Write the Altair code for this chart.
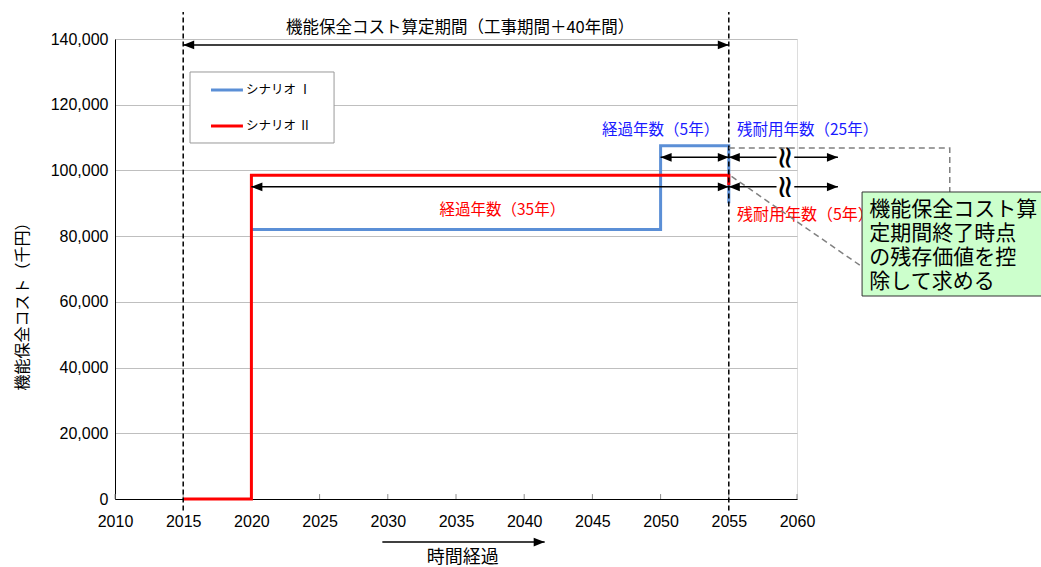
import altair as alt
import pandas as pd

# Cost paths of the two scenarios (year, thousand yen)
years_s1 = [2020, 2050, 2050, 2055, 2055]
cost_s1 = [82000, 82000, 107500, 107500, 90000]
years_s2 = [2015, 2020, 2020, 2055, 2055]
cost_s2 = [0, 0, 98500, 98500, 95500]

series_names = ["シナリオ Ⅰ", "シナリオ Ⅱ"]
series_colors = ["#5b8fd6", "#ff0000"]

# Axis ticks
x_ticks = [2010, 2015, 2020, 2025, 2030, 2035, 2040, 2045, 2050, 2055, 2060]
y_ticks = [0, 20000, 40000, 60000, 80000, 100000, 120000, 140000]

# Start and end of the cost evaluation period
period_bounds = [2015, 2055]

JP = "Noto Sans CJK JP"
NUM = "Liberation Sans"

xs = alt.Scale(domain=[2010, 2060], nice=False, zero=False)
ys = alt.Scale(domain=[0, 140000], nice=False)

x_axis = alt.Axis(
    values=x_ticks,
    labelExpr="format(datum.value, 'd')",
    title=None,
    grid=False,
    ticks=False,
    labelPadding=14,
    labelFont=NUM,
    labelFontSize=16,
    labelColor="#000",
    domainColor="#000",
    labelFlush=False,
)
y_axis = alt.Axis(
    values=y_ticks,
    labelExpr="format(datum.value, ',')",
    title="機能保全コスト（千円）",
    titleFont=JP,
    titleFontSize=16,
    titleFontWeight="normal",
    titleColor="#000",
    titleAngle=270,
    titleX=-93,
    titleY=263,
    titleAlign="center",
    titleBaseline="middle",
    grid=True,
    gridColor="#bfbfbf",
    ticks=False,
    labelPadding=7,
    labelFont=NUM,
    labelFontSize=16,
    labelColor="#000",
    domainColor="#000",
    labelFlush=False,
)


def X(field="x"):
    return alt.X(f"{field}:Q", scale=xs, axis=x_axis)


def Y(field="y"):
    return alt.Y(f"{field}:Q", scale=ys, axis=y_axis)


rows = []
for i, (x, y) in enumerate(zip(years_s1, cost_s1)):
    rows.append({"series": series_names[0], "i": i, "x": x, "y": y})
for i, (x, y) in enumerate(zip(years_s2, cost_s2)):
    rows.append({"series": series_names[1], "i": i, "x": x, "y": y})
lines_df = pd.DataFrame(rows)

# Small inward ticks on the x axis
xtick_df = pd.DataFrame({"x": x_ticks, "y": [0] * len(x_ticks), "y2": [1500] * len(x_ticks)})
xtick_layer = alt.Chart(xtick_df).mark_rule(color="#8c8c8c", strokeWidth=1, clip=False).encode(
    x=X(), y=Y(), y2="y2:Q"
)

line_s1 = alt.Chart(lines_df[lines_df.series == series_names[0]]).mark_line(
    color=series_colors[0], strokeWidth=3, clip=False, strokeJoin="miter"
).encode(x=X(), y=Y(), order="i:Q")
line_s2 = alt.Chart(lines_df[lines_df.series == series_names[1]]).mark_line(
    color=series_colors[1], strokeWidth=3, clip=False, strokeJoin="miter"
).encode(x=X(), y=Y(), order="i:Q")

# Dashed verticals marking the evaluation period
vdash_df = pd.DataFrame({"x": period_bounds, "y": [-3500, -3500], "y2": [148200, 148200]})
vdash = alt.Chart(vdash_df).mark_rule(
    color="#000", strokeWidth=1.5, strokeDash=[5, 3], clip=False
).encode(x=X(), y=Y(), y2="y2:Q")

# Arrow shafts
seg_df = pd.DataFrame(
    [
        {"x": 2015, "x2": 2055, "y": 138200},
        {"x": 2050, "x2": 2055, "y": 104000},
        {"x": 2055, "x2": 2058.5, "y": 104000},
        {"x": 2059.8, "x2": 2063, "y": 104000},
        {"x": 2020, "x2": 2055, "y": 95000},
        {"x": 2055, "x2": 2058.5, "y": 95000},
        {"x": 2059.8, "x2": 2063, "y": 95000},
        {"x": 2029.6, "x2": 2041.5, "y": -13100},
    ]
)
segs = alt.Chart(seg_df).mark_rule(color="#000", strokeWidth=1.5, clip=False).encode(
    x=X(), x2="x2:Q", y=Y()
)

tips_left_df = pd.DataFrame(
    {"x": [2015, 2050, 2055, 2020, 2055], "y": [138200, 104000, 104000, 95000, 95000]}
)
tips_right_df = pd.DataFrame(
    {
        "x": [2055, 2055, 2063, 2055, 2063, 2041.5],
        "y": [138200, 104000, 104000, 95000, 95000, -13100],
    }
)
tips_left = alt.Chart(tips_left_df).mark_point(
    shape="M0,0L1,-0.4L1,0.4Z", filled=True, size=484, color="#000", opacity=1,
    strokeWidth=0, clip=False,
).encode(x=X(), y=Y())
tips_right = alt.Chart(tips_right_df).mark_point(
    shape="M0,0L-1,-0.4L-1,0.4Z", filled=True, size=484, color="#000", opacity=1,
    strokeWidth=0, clip=False,
).encode(x=X(), y=Y())

# Break marks on the remaining-life arrows
brk_df = pd.DataFrame({"x": [2059.15, 2059.15], "y": [104000, 95000], "t": ["≈", "≈"]})
brks = alt.Chart(brk_df).mark_text(
    font="DejaVu Sans", fontSize=32, angle=90, color="#000", clip=False,
    align="center", baseline="middle",
).encode(x=X(), y=Y(), text="t:N")

# Labels
lab_df = pd.DataFrame(
    [
        {"x": 2035.3, "y": 143350, "t": "機能保全コスト算定期間（工事期間＋40年間）", "c": "#000", "a": "center", "s": 16.5},
        {"x": 2050, "y": 112300, "t": "経過年数（5年）", "c": "#1a1aff", "a": "center", "s": 15.5},
        {"x": 2055.6, "y": 112300, "t": "残耐用年数（25年）", "c": "#1a1aff", "a": "left", "s": 15.5},
        {"x": 2038.4, "y": 88050, "t": "経過年数（35年）", "c": "#ff0000", "a": "center", "s": 15.5},
        {"x": 2055.6, "y": 86450, "t": "残耐用年数（5年）", "c": "#ff0000", "a": "left", "s": 16},
        {"x": 2035.5, "y": -18000, "t": "時間経過", "c": "#000", "a": "center", "s": 18},
    ]
)
label_layers = []
for _, r in lab_df.iterrows():
    label_layers.append(
        alt.Chart(pd.DataFrame([r])).mark_text(
            font=JP, fontSize=float(r["s"]), color=r["c"], align=r["a"],
            baseline="middle", clip=False,
        ).encode(x=X(), y=Y(), text="t:N")
    )

# Dashed connectors to the note box
conn_df = pd.DataFrame(
    [
        {"g": "a", "i": 0, "x": 2055, "y": 106800},
        {"g": "a", "i": 1, "x": 2071.2, "y": 106800},
        {"g": "a", "i": 2, "x": 2071.2, "y": 93400},
        {"g": "b", "i": 0, "x": 2055.2, "y": 98200},
        {"g": "b", "i": 1, "x": 2064.8, "y": 70600},
    ]
)
conn = alt.Chart(conn_df).mark_line(
    color="#808080", strokeWidth=1.5, strokeDash=[6, 4], clip=False
).encode(x=X(), y=Y(), detail="g:N", order="i:Q")

# Note box
note_df = pd.DataFrame({"x": [2064.77], "x2": [2080], "y": [93435], "y2": [61780]})
note_box = alt.Chart(note_df).mark_rect(
    fill="#ccffcc", stroke="#333333", strokeWidth=1, clip=False
).encode(x=X(), x2="x2:Q", y=Y(), y2="y2:Q")

note_lines = ["機能保全コスト算", "定期間終了時点", "の残存価値を控", "除して求める"]
note_txt_df = pd.DataFrame(
    {"x": [2065.3] * 4, "y": [87950, 80650, 73350, 66050], "t": note_lines}
)
note_txt = alt.Chart(note_txt_df).mark_text(
    font=JP, fontSize=21, color="#000", align="left", baseline="middle", clip=False
).encode(x=X(), y=Y(), text="t:N")

# Legend
leg_box_df = pd.DataFrame({"x": [2015.5], "x2": [2026.06], "y": [129957], "y2": [108348]})
leg_box = alt.Chart(leg_box_df).mark_rect(
    fill="#fff", stroke="#999999", strokeWidth=1, clip=False
).encode(x=X(), x2="x2:Q", y=Y(), y2="y2:Q")

leg_df = pd.DataFrame(
    {
        "x": [2017.04, 2017.04],
        "x2": [2019.38, 2019.38],
        "y": [124478, 113522],
        "name": series_names,
        "c": series_colors,
    }
)
leg_lines = alt.Chart(leg_df).mark_rule(strokeWidth=3, clip=False).encode(
    x=X(), x2="x2:Q", y=Y(),
    color=alt.Color("c:N", scale=None, legend=None),
)
leg_text = alt.Chart(leg_df).mark_text(
    font=JP, fontSize=12.5, color="#000", align="left", baseline="middle", dx=3, clip=False
).encode(x=alt.X("x2:Q", scale=xs, axis=x_axis), y=Y(), text="name:N")

chart = alt.layer(
    xtick_layer,
    line_s1,
    line_s2,
    vdash,
    segs,
    tips_left,
    tips_right,
    brks,
    *label_layers,
    conn,
    note_box,
    note_txt,
    leg_box,
    leg_lines,
    leg_text,
).properties(
    width=682,
    height=460,
    autosize=alt.AutoSizeParams(type="none"),
    padding={"left": 115, "top": 39, "right": 244, "bottom": 68},
).configure_view(
    stroke="#a6a6a6", strokeWidth=1
).configure(
    background="#ffffff"
)

chart.save("out.html", embed_options={"renderer": "svg", "actions": False})
